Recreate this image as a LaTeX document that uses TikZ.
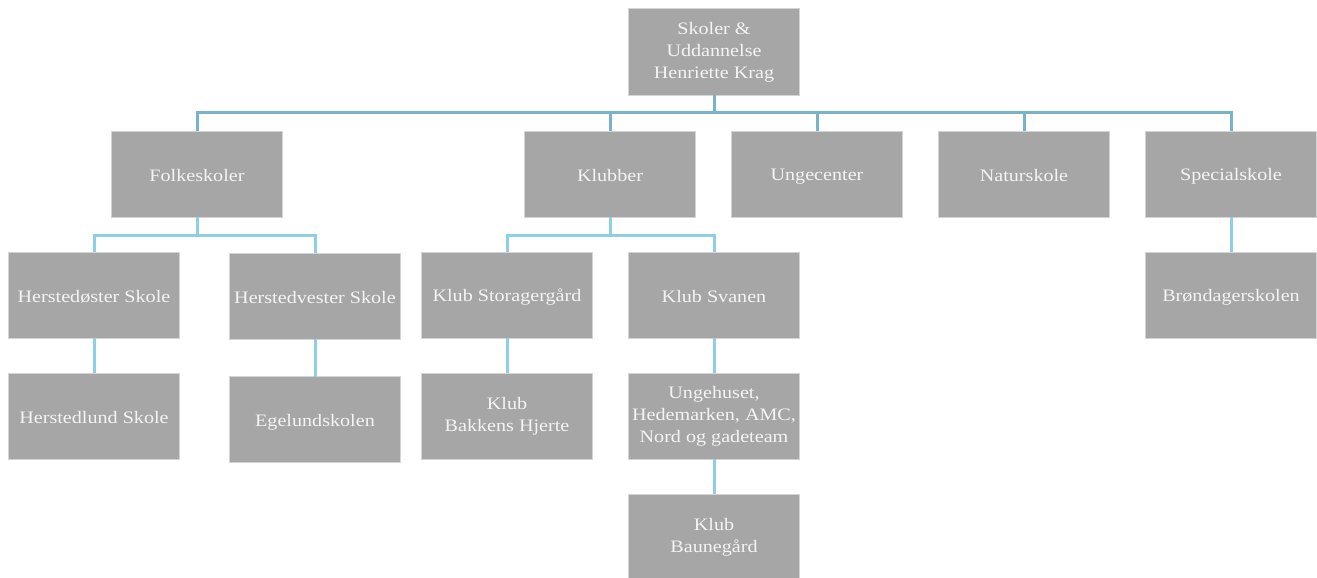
\documentclass[tikz,border=0pt]{standalone}
\usepackage{fontspec}
\setmainfont[FakeStretch=1.15]{Liberation Serif}
\definecolor{boxfill}{HTML}{A6A6A6}
\definecolor{boxline}{HTML}{D4D4D4}
\definecolor{boxtext}{HTML}{F4F4F4}
\definecolor{connA}{HTML}{78B4C8}
\definecolor{connB}{HTML}{8DD0E6}
\newcommand{\boxstrut}{\rule[-2pt]{0pt}{19pt}}
\tikzset{
  orgbox/.style={rectangle, fill=boxfill, draw=boxline, line width=1pt,
    minimum width=171pt, minimum height=86pt, inner sep=2pt, outer sep=0pt,
    align=center, text=boxtext, font=\fontsize{17.5}{22}\selectfont,
    execute at begin node={\boxstrut}, execute at end node={\boxstrut}},
  connone/.style={draw=connA, line width=3pt},
  conntwo/.style={draw=connB, line width=3pt},
}
\begin{document}
\begin{tikzpicture}[x=1pt,y=-1pt]
\useasboundingbox (0,0) rectangle (1317,578);
\node[orgbox] (top) at (714,52) {Skoler \&\\Uddannelse\\Henriette Krag};
\node[orgbox] (folk) at (197,174) {Folkeskoler};
\node[orgbox] (klub) at (610,174) {Klubber};
\node[orgbox] (unge) at (817,174) {Ungecenter};
\node[orgbox] (natur) at (1024,174) {Naturskole};
\node[orgbox] (spec) at (1231,174) {Specialskole};
\node[orgbox] (hoest) at (94,295) {Herstedøster Skole};
\node[orgbox] (hvest) at (315,296) {Herstedvester Skole};
\node[orgbox] (stor) at (507,295) {Klub Storagergård};
\node[orgbox] (svan) at (714,295) {Klub Svanen};
\node[orgbox] (broend) at (1231,295) {Brøndagerskolen};
\node[orgbox] (hlund) at (94,416) {Herstedlund Skole};
\node[orgbox] (egel) at (315,419.5) {Egelundskolen};
\node[orgbox] (bakk) at (507,416) {Klub\\Bakkens Hjerte};
\node[orgbox] (ungeh) at (714,416) {Ungehuset,\\Hedemarken, AMC,\\Nord og gadeteam};
\node[orgbox] (baune) at (714,537) {Klub\\Baunegård};
\coordinate (barA) at (0,112);
\coordinate (barF) at (0,235);
\coordinate (barK) at (0,235);
\foreach \c in {folk,klub,unge,natur,spec}
  \draw[connone] (top.south) -- (top.south |- barA) -| (\c.north);
\foreach \c in {hoest,hvest}
  \draw[conntwo] (folk.south) -- (folk.south |- barF) -| (\c.north);
\foreach \c in {stor,svan}
  \draw[conntwo] (klub.south) -- (klub.south |- barK) -| (\c.north);
\draw[conntwo] (spec.south) -- (broend.north);
\draw[conntwo] (hoest.south) -- (hlund.north);
\draw[conntwo] (hvest.south) -- (egel.north);
\draw[conntwo] (stor.south) -- (bakk.north);
\draw[conntwo] (svan.south) -- (ungeh.north);
\draw[conntwo] (ungeh.south) -- (baune.north);
\end{tikzpicture}
\end{document}
